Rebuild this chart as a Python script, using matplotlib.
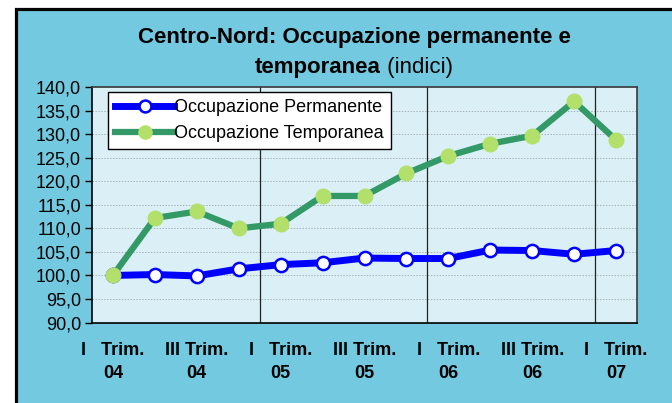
"""
Centro-Nord: occupazione permanente e temporanea (indici trimestrali).
"""

import matplotlib
matplotlib.use("Agg")
import matplotlib.pyplot as plt
from matplotlib.patches import Rectangle
from matplotlib.ticker import FuncFormatter

plt.rcParams["font.family"] = ["Liberation Sans", "DejaVu Sans"]

quarters = ["I 04", "II 04", "III 04", "IV 04", "I 05", "II 05", "III 05",
            "IV 05", "I 06", "II 06", "III 06", "IV 06", "I 07"]
permanente = [100.0, 100.2, 99.9, 101.4, 102.3, 102.7, 103.7,
              103.6, 103.6, 105.4, 105.3, 104.5, 105.3]
temporanea = [100.0, 112.2, 113.6, 110.0, 111.0, 116.9, 116.9,
              121.7, 125.4, 128.0, 129.7, 137.0, 128.8]
tick_labels = ["I   Trim.\n04", "III Trim.\n04", "I   Trim.\n05", "III Trim.\n05",
               "I   Trim.\n06", "III Trim.\n06", "I   Trim.\n07"]

outer_bg = "#73C9DF"
plot_bg = "#DAEFF6"

W, H = 672, 403
fig = plt.figure(figsize=(W / 100, H / 100), dpi=100, facecolor="white")

# outer chart frame (cut off at right and bottom, like the original)
fig.patches.append(Rectangle((15.5 / W, -0.3), 1.2, 1.3 - 9.5 / H,
                             transform=fig.transFigure, facecolor=outer_bg,
                             edgecolor="black", linewidth=2.3, zorder=-5))

ax = fig.add_axes([92 / W, (H - 322.5) / H, 545 / W, 235.2 / H])
ax.set_facecolor(plot_bg)

x = list(range(len(quarters)))
ax.plot(x, permanente, color="#0000FF", lw=5, marker="o", ms=9.5,
        mfc="white", mec="#0000FF", mew=1.8, label="Occupazione Permanente", zorder=3)
ax.plot(x, temporanea, color="#339966", lw=4.5, marker="o", ms=10.5,
        mfc="#B3E06A", mec="#B3E06A", label="Occupazione Temporanea", zorder=4)

ax.set_xlim(-0.5, len(quarters) - 0.5)
ax.set_ylim(90, 140)
ax.set_yticks(range(90, 141, 5))
ax.yaxis.set_major_formatter(FuncFormatter(lambda v, p: f"{v:.1f}".replace(".", ",")))
ax.yaxis.grid(True, ls=(0, (1.5, 1.5)), color="#A8B4B8", lw=0.7)
for xv in [3.5, 7.5, 11.5]:
    ax.axvline(xv, color="#222222", lw=0.9, zorder=2)

ax.set_xticks(x[::2])
ax.set_xticklabels(tick_labels, fontweight="bold", fontsize=13, linespacing=1.5)
ax.tick_params(axis="x", length=0, pad=14)
ax.tick_params(axis="y", direction="out", length=5, width=1, labelsize=13, pad=3)

for side in ["left", "bottom"]:
    ax.spines[side].set_color("black")
    ax.spines[side].set_linewidth(1.2)
for side in ["top", "right"]:
    ax.spines[side].set_color("#3A3A3A")
    ax.spines[side].set_linewidth(1.2)

leg = ax.legend(loc="upper left", bbox_to_anchor=(16 / 545, (322.5 - 92) / 235.2),
                borderaxespad=0, fontsize=13, handlelength=3.3, handletextpad=0.0,
                labelspacing=0.5, borderpad=0.38, fancybox=False, framealpha=1,
                edgecolor="black", markerscale=0.9)
leg.get_frame().set_linewidth(1.0)

# title: first line bold, second line mixed bold/regular
fig.text(354 / W, 1 - 38 / H, "Centro-Nord: Occupazione permanente e",
         ha="center", va="center", fontsize=16, fontweight="bold")
renderer = fig.canvas.get_renderer()
t1 = fig.text(0, 1 - 68 / H, "temporanea", ha="left", va="center",
              fontsize=16, fontweight="bold")
t2 = fig.text(0, 1 - 68 / H, " (indici)", ha="left", va="center", fontsize=16)
w1 = t1.get_window_extent(renderer).width
w2 = t2.get_window_extent(renderer).width
start = 354 - (w1 + w2) / 2
t1.set_x(start / W)
t2.set_x((start + w1) / W)

fig.savefig("out.png", dpi=100, facecolor=fig.get_facecolor())
